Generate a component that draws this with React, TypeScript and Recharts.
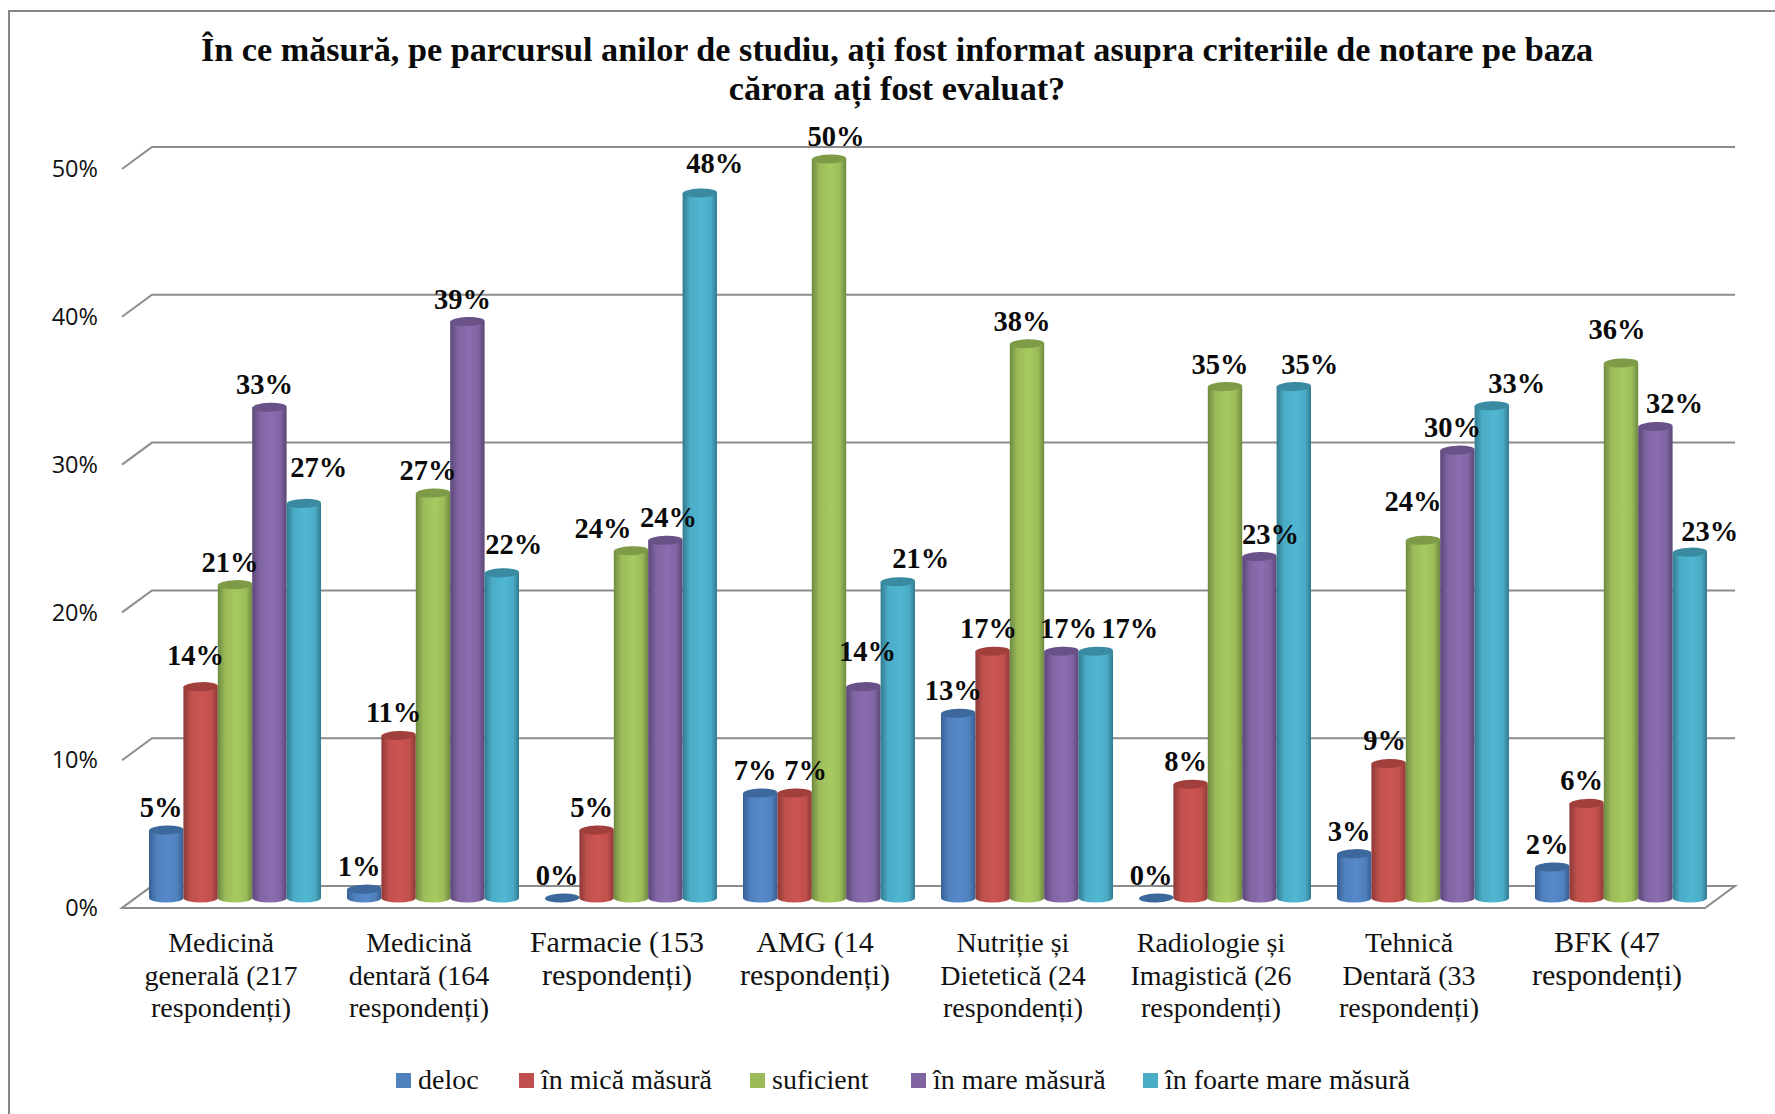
import { Bar, BarChart, CartesianGrid, Legend, XAxis, YAxis } from "recharts";

const categories = [
  "Medicină\ngenerală (217\nrespondenți)",
  "Medicină\ndentară (164\nrespondenți)",
  "Farmacie (153\nrespondenți)",
  "AMG (14\nrespondenți)",
  "Nutriție și\nDietetică (24\nrespondenți)",
  "Radiologie și\nImagistică (26\nrespondenți)",
  "Tehnică\nDentară (33\nrespondenți)",
  "BFK (47\nrespondenți)",
];

const deloc = [4.6, 0.6, 0, 7.1, 12.5, 0, 3, 2.1];
const inMica = [14.3, 11, 4.6, 7.1, 16.7, 7.7, 9.1, 6.4];
const suficient = [21.2, 27.4, 23.5, 50, 37.5, 34.6, 24.2, 36.2];
const inMare = [33.2, 39, 24.2, 14.3, 16.7, 23.1, 30.3, 31.9];
const inFoarteMare = [26.7, 22, 47.7, 21.4, 16.7, 34.6, 33.3, 23.4];

const yTicks = [0, 10, 20, 30, 40, 50];

const series = [
  { key: "deloc", name: "deloc", values: deloc, fill: "#4F81BD", light: "#5789CB", dark: "#365E94", cap: "#3C689C" },
  { key: "inMica", name: "în mică măsură", values: inMica, fill: "#C0504D", light: "#CC5552", dark: "#8C3936", cap: "#A13F3D" },
  { key: "suficient", name: "suficient", values: suficient, fill: "#9BBB59", light: "#A6CA60", dark: "#6E8A41", cap: "#7E9B48" },
  { key: "inMare", name: "în mare măsură", values: inMare, fill: "#8064A2", light: "#8B6DB0", dark: "#5A4676", cap: "#6A5187" },
  { key: "inFoarteMare", name: "în foarte mare măsură", values: inFoarteMare, fill: "#4BACC6", light: "#50B7D3", dark: "#327B90", cap: "#3A8AA2" },
];

// hand placement of the data labels, they do not sit evenly in the original
const labelDx = [
  [-5, -5, -5, -5, -5, -5, -5, -5],
  [-5, -5, -5, 11, -4, -5, -4, -5],
  [-5, -5, -28, 7, -5, -5, -10, -4],
  [-5, -5, 3, 4, 7, 11, -5, 19],
  [15, 12, 15, 23, 34, 16, 25, 20],
];
const labelDy = [
  [0, 0, 0, 0, 0, 0, 0, 0],
  [-9, 0, 0, 0, 0, 0, 0, 0],
  [0, 0, 0, 0, 0, 0, -16, -11],
  [0, 0, 0, -13, 0, 0, 0, 0],
  [-13, -6, -7, -1, 0, 0, 0, 2],
];
const legendX = [396, 519, 750, 911, 1143];

const data = categories.map((name, i) => {
  const row: Record<string, string | number> = { name };
  series.forEach((s) => {
    row[s.key] = s.values[i];
  });
  return row;
});

const serif = "'Liberation Serif', serif";
const GRID = "#8C8C8C";

function Cylinder(props: any) {
  const { x, y, width, height, gradient, cap } = props;
  const rx = width / 2;
  const ry = 4.5;
  const body = `M${x},${y} L${x},${y + height} A${rx},${ry} 0 0 0 ${x + width},${y + height} L${x + width},${y} Z`;
  return (
    <g>
      {height > 0 && <path d={body} fill={`url(#${gradient})`} />}
      <ellipse
        cx={x + rx}
        cy={y}
        rx={rx}
        ry={ry}
        fill={cap}
        transform={`rotate(-2 ${x + rx} ${y})`}
      />
    </g>
  );
}

function GridLine(props: any) {
  const { y1 } = props;
  return (
    <polyline
      points={`122,${y1 + 10} 152,${y1 - 12} 1735,${y1 - 12}`}
      fill="none"
      stroke={GRID}
      strokeWidth={2}
    />
  );
}

function YTick(props: any) {
  const { y, payload } = props;
  return (
    <text x={98} y={y + 10} dy="0.35em" textAnchor="end" fontFamily="'Open Sans', sans-serif" fontSize={23.5} fill="#111">
      {payload.value}%
    </text>
  );
}

function XTick(props: any) {
  const { x, payload } = props;
  const lines: string[] = payload.value.split("\n");
  return (
    <text textAnchor="middle" fontFamily={serif} fontSize={lines.length === 2 ? 30 : 28} fill="#111">
      {lines.map((line, i) => (
        <tspan key={i} x={x - 14} y={952 + i * 32.5}>
          {line}
        </tspan>
      ))}
    </text>
  );
}

function LegendRow(props: any) {
  const items = (props.payload || []).filter((p: any) => p.type !== "none");
  return (
    <div style={{ position: "relative", height: 40, fontFamily: serif, fontSize: 28, color: "#111" }}>
      {items.map((p: any, i: number) => (
        <div key={p.value} style={{ position: "absolute", left: legendX[i], top: 0, display: "flex", alignItems: "center", whiteSpace: "nowrap" }}>
          <span style={{ width: 15, height: 15, background: p.color, marginRight: 7 }} />
          {p.value}
        </div>
      ))}
    </div>
  );
}

function DataLabel(props: any) {
  const { x, y, width, index, seriesIndex } = props;
  const value = series[seriesIndex].values[index];
  return (
    <text
      x={x + width / 2 + labelDx[seriesIndex][index]}
      y={y - 23 + labelDy[seriesIndex][index]}
      dy="0.35em"
      textAnchor="middle"
      fontFamily={serif}
      fontWeight={700}
      fontSize={28.5}
      fill="#0a0a0a"
    >
      {Math.round(value)}%
    </text>
  );
}

export default function App() {
  return (
    <div style={{ position: "absolute", left: 0, top: 0, width: 1775, height: 1114, background: "#fff" }}>
      <BarChart
        width={1775}
        height={1114}
        data={data}
        barSize={34.4}
        barGap={0}
        margin={{ top: 159, right: 55, left: 0, bottom: 0 }}
      >
        <defs>
          {series.map((s) => (
            <linearGradient key={s.key} id={`cyl-${s.key}`} x1="0" y1="0" x2="1" y2="0">
              <stop offset="0%" stopColor={s.dark} />
              <stop offset="22%" stopColor={s.fill} />
              <stop offset="55%" stopColor={s.light} />
              <stop offset="82%" stopColor={s.fill} />
              <stop offset="100%" stopColor={s.dark} />
            </linearGradient>
          ))}
        </defs>

        <path d="M1775,11 L9,11 L9,1114" fill="none" stroke="#868686" strokeWidth={2} />
        <text textAnchor="middle" fontFamily={serif} fontWeight={700} fontSize={34.2} fill="#0a0a0a">
          <tspan x={897} y={61}>În ce măsură, pe parcursul anilor de studiu, ați fost informat asupra criteriile de notare pe baza</tspan>
          <tspan x={897} y={100}>cărora ați fost evaluat?</tspan>
        </text>
        <path d="M122,908 L152,886 L1735,886 L1705,908 Z" fill="#fff" stroke={GRID} strokeWidth={2} />

        <CartesianGrid vertical={false} horizontal={GridLine} />
        <XAxis dataKey="name" interval={0} height={216} axisLine={false} tickLine={false} tick={XTick} />
        <XAxis dataKey="name" xAxisId="labels" hide />
        <YAxis
          width={136}
          domain={[0, 50]}
          ticks={yTicks}
          axisLine={false}
          tickLine={false}
          tick={YTick}
        />
        <Legend
          verticalAlign="middle"
          align="center"
          layout="horizontal"
          itemSorter={null}
          wrapperStyle={{ top: 1064, left: 0, width: 1775 }}
          content={LegendRow}
        />
        {series.map((s) => (
          <Bar
            key={s.key}
            dataKey={s.key}
            name={s.name}
            fill={s.fill}
            isAnimationActive={false}
            shape={(p: any) => <Cylinder {...p} gradient={`cyl-${s.key}`} cap={s.cap} />}
          />
        ))}
        {/* labels in a second pass so they land on top of neighbouring bars */}
        {series.map((s, i) => (
          <Bar
            key={`${s.key}-labels`}
            dataKey={s.key}
            xAxisId="labels"
            fill="none"
            legendType="none"
            isAnimationActive={false}
            shape={(p: any) => <DataLabel {...p} seriesIndex={i} />}
          />
        ))}
      </BarChart>
    </div>
  );
}
